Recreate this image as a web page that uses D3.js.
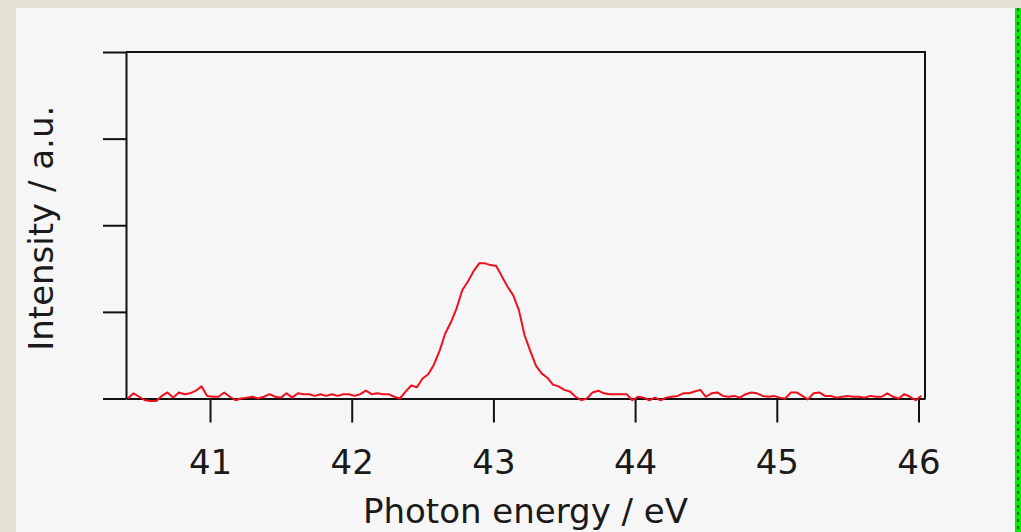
<!DOCTYPE html>
<html>
<head>
<meta charset="utf-8">
<script src="https://cdn.jsdelivr.net/npm/d3@7"></script>
<style>
  html, body { margin: 0; padding: 0; background: #e6e3d6; }
  svg { display: block; }
</style>
</head>
<body>
<svg id="chart" width="1021" height="532"></svg>
<script>
// ---- data ----
const energy = [
  40.42, 40.46, 40.50, 40.54, 40.58, 40.62, 40.66, 40.70, 40.74, 40.78,
  40.82, 40.86, 40.90, 40.94, 40.98, 41.02, 41.06, 41.10, 41.14, 41.18,
  41.22, 41.26, 41.30, 41.34, 41.38, 41.42, 41.46, 41.50, 41.54, 41.58,
  41.62, 41.66, 41.70, 41.74, 41.78, 41.82, 41.86, 41.90, 41.94, 41.98,
  42.02, 42.06, 42.10, 42.14, 42.18, 42.22, 42.26, 42.30, 42.34, 42.38,
  42.42, 42.46, 42.50, 42.54, 42.58, 42.62, 42.66, 42.70, 42.74, 42.78,
  42.82, 42.86, 42.90, 42.94, 42.98, 43.02, 43.06, 43.10, 43.14, 43.18,
  43.22, 43.26, 43.30, 43.34, 43.38, 43.42, 43.46, 43.50, 43.54, 43.58,
  43.62, 43.66, 43.70, 43.74, 43.78, 43.82, 43.86, 43.90, 43.94, 43.98,
  44.02, 44.06, 44.10, 44.14, 44.18, 44.22, 44.26, 44.30, 44.34, 44.38,
  44.42, 44.46, 44.50, 44.54, 44.58, 44.62, 44.66, 44.70, 44.74, 44.78,
  44.82, 44.86, 44.90, 44.94, 44.98, 45.02, 45.06, 45.10, 45.14, 45.18,
  45.22, 45.26, 45.30, 45.34, 45.38, 45.42, 45.46, 45.50, 45.54, 45.58,
  45.62, 45.66, 45.70, 45.74, 45.78, 45.82, 45.86, 45.90, 45.94, 45.98,
  46.02
];
const intensity = [
  0.00, 0.06, 0.02, -0.02, -0.03, -0.03, 0.03, 0.07, 0.01, 0.07,
  0.05, 0.06, 0.09, 0.14, 0.03, 0.02, 0.02, 0.07, 0.02, -0.02,
  0.00, 0.01, 0.02, 0.00, 0.02, 0.05, 0.02, 0.01, 0.06, 0.01,
  0.06, 0.05, 0.05, 0.03, 0.05, 0.03, 0.05, 0.03, 0.05, 0.05,
  0.03, 0.05, 0.09, 0.05, 0.06, 0.05, 0.05, 0.02, 0.00, 0.08,
  0.15, 0.13, 0.23, 0.28, 0.39, 0.55, 0.75, 0.88, 1.04, 1.25,
  1.35, 1.47, 1.56, 1.56, 1.54, 1.53, 1.41, 1.29, 1.19, 1.02,
  0.73, 0.55, 0.38, 0.29, 0.24, 0.16, 0.14, 0.10, 0.08, 0.02,
  -0.02, 0.00, 0.07, 0.09, 0.06, 0.05, 0.05, 0.05, 0.05, -0.02,
  0.02, 0.01, -0.02, 0.01, -0.02, 0.01, 0.02, 0.03, 0.06, 0.06,
  0.08, 0.10, 0.02, 0.06, 0.07, 0.03, 0.02, 0.03, 0.01, 0.05,
  0.07, 0.06, 0.03, 0.02, 0.03, 0.01, 0.00, 0.07, 0.07, 0.03,
  -0.01, 0.06, 0.07, 0.03, 0.03, 0.01, 0.02, 0.03, 0.02, 0.02,
  0.01, 0.03, 0.02, 0.02, 0.06, 0.02, 0.00, 0.05, 0.02, -0.02,
  0.03
];
const xTicks = [41, 42, 43, 44, 45, 46];
const yTicks = [0, 1, 2, 3, 4];
const xDomain = [40.407, 46.046];
const yDomain = [0, 4];
const xTitle = "Photon energy / eV";
const yTitle = "Intensity / a.u.";

// ---- layout ----
const svg = d3.select("#chart");
const plot = { left: 126, right: 925, top: 52, bottom: 398.5 };
const font = "'DejaVu Sans', Verdana, sans-serif";

// panel background
svg.append("rect").attr("x", 16).attr("y", 8).attr("width", 999).attr("height", 524)
  .attr("fill", "#f6f6f6");
// green stripe at right edge
svg.append("rect").attr("x", 1015).attr("y", 8).attr("width", 6).attr("height", 524)
  .attr("fill", "#00f000");
svg.append("line").attr("x1", 1018).attr("x2", 1018).attr("y1", 8).attr("y2", 532)
  .attr("stroke", "#1a3a1a").attr("stroke-width", 1.5).attr("stroke-dasharray", "3,4");

const x = d3.scaleLinear().domain(xDomain).range([plot.left, plot.right]);
const y = d3.scaleLinear().domain(yDomain).range([plot.bottom, plot.top]);

// frame (top and right)
svg.append("path")
  .attr("d", `M${plot.left},${plot.top}H${plot.right}V${plot.bottom}`)
  .attr("fill", "none").attr("stroke", "#111").attr("stroke-width", 2);

// left axis, outward ticks, no labels
const yAxis = svg.append("g").attr("transform", `translate(${plot.left},0)`)
  .call(d3.axisLeft(y).tickValues(yTicks).tickSize(23).tickSizeOuter(0).tickFormat(""));
yAxis.selectAll("path, line").attr("stroke", "#111").attr("stroke-width", 2);

// bottom axis
const xAxis = svg.append("g").attr("transform", `translate(0,${plot.bottom})`)
  .call(d3.axisBottom(x).tickValues(xTicks).tickSize(24).tickSizeOuter(0).tickPadding(27.5)
    .tickFormat(d3.format("d")));
xAxis.selectAll("path, line").attr("stroke", "#111").attr("stroke-width", 2);
xAxis.selectAll("text").attr("font-family", font).attr("font-size", 34).attr("fill", "#1a1a1a");

// data line
const line = d3.line().x((d, i) => x(energy[i])).y(d => y(d));
svg.append("path").datum(intensity)
  .attr("d", line).attr("fill", "none")
  .attr("stroke", "#f0101c").attr("stroke-width", 2).attr("stroke-linejoin", "round");

// titles
svg.append("text").attr("x", (plot.left + plot.right) / 2).attr("y", 523)
  .attr("text-anchor", "middle").attr("font-family", font).attr("font-size", 34)
  .attr("fill", "#1a1a1a").text(xTitle);
svg.append("text").attr("transform", `translate(53,${(plot.top + plot.bottom) / 2 + 3}) rotate(-90)`)
  .attr("text-anchor", "middle").attr("font-family", font).attr("font-size", 34)
  .attr("fill", "#1a1a1a").text(yTitle);
</script>
</body>
</html>
